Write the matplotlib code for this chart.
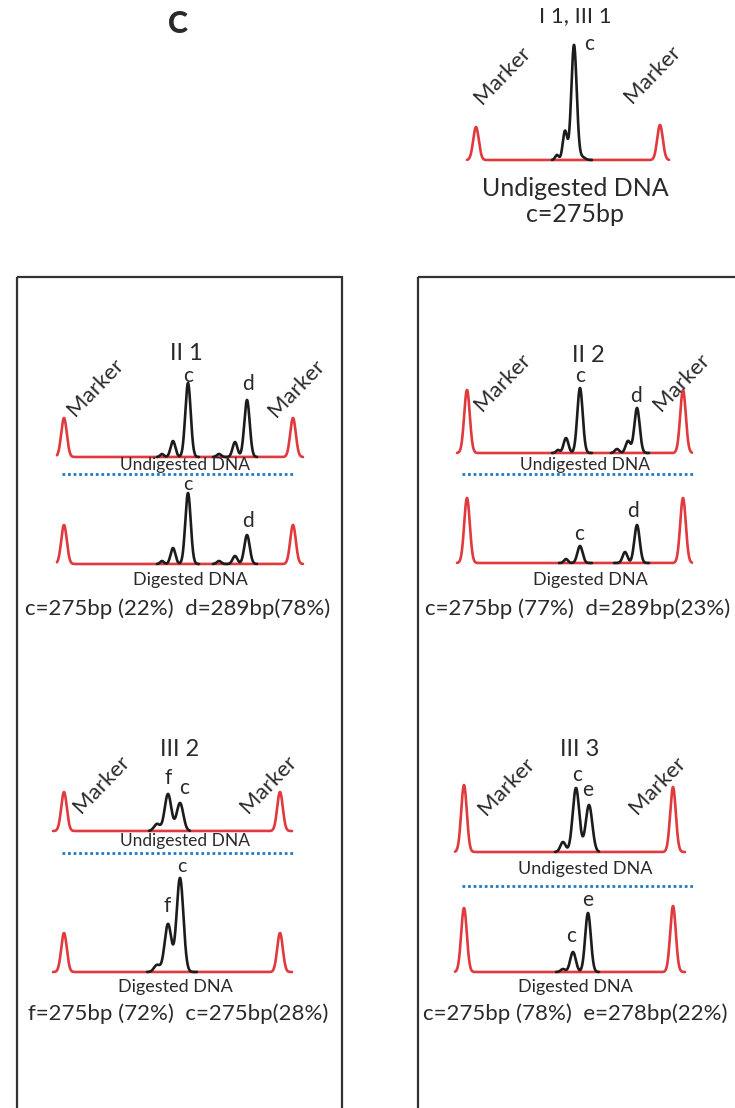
import numpy as np
import matplotlib.pyplot as plt
from matplotlib.patches import Rectangle

plt.rcParams['font.family'] = ['Lato', 'DejaVu Sans']

RED = '#e0393e'
BLACK = '#1c1c1c'
BLUE = '#1f7bc4'
TXT = '#2a2a2a'

# marker peaks: (position, height)
TOP_MARKERS = [(476, 33), (660, 35)]
II1_MARKERS_U = [(64, 39), (293, 39)]
II1_MARKERS_D = [(64, 39), (293, 39)]
II2_MARKERS_U = [(467, 63), (683, 63)]
II2_MARKERS_D = [(467, 65), (683, 65)]
III2_MARKERS_U = [(64, 39), (280, 39)]
III2_MARKERS_D = [(64, 39), (280, 39)]
III3_MARKERS_U = [(464, 67), (673, 65)]
III3_MARKERS_D = [(464, 64), (673, 66)]

# sample peaks: segments of (start, end, [(position, height, width), ...])
TOP_PEAKS = [(552, 592, [(557, 5, 1.8), (565, 29, 2.2), (574, 115, 2.7), (582, 3, 3)])]
II1_PEAKS_U = [(157, 199, [(162, 3, 1.8), (173, 16, 2.4), (188, 74, 2.7)]),
               (213, 257, [(219, 3, 2.2), (235, 15, 2.4), (247, 57, 2.7)])]
II1_PEAKS_D = [(157, 199, [(162, 3, 1.8), (173, 16, 2.4), (188, 71, 2.7)]),
               (213, 257, [(219, 3, 2.2), (235, 8, 2.4), (247, 29, 2.7)])]
II2_PEAKS_U = [(552, 592, [(558, 3, 1.8), (566, 15, 2.4), (580, 65, 2.7)]),
               (611, 649, [(617, 4, 2.2), (628, 12, 2.4), (637, 45, 2.7)])]
II2_PEAKS_D = [(559, 592, [(566, 4, 2.0), (580, 17, 2.6)]),
               (614, 649, [(625, 11, 2.4), (637, 38, 2.7)])]
III2_PEAKS_U = [(149, 190, [(157, 7, 3.0), (168, 37, 3.3), (180, 28, 3.3)])]
III2_PEAKS_D = [(147, 197, [(157, 7, 3.0), (168, 48, 3.4), (180, 94, 3.4)])]
III3_PEAKS_U = [(555, 599, [(563, 10, 2.6), (576, 64, 3.3), (589, 47, 3.3)])]
III3_PEAKS_D = [(556, 599, [(563, 3, 2.2), (573, 20, 2.8), (588, 59, 2.8)])]


def gauss_sum(x, peaks):
    y = np.zeros_like(x)
    for c, h, s in peaks:
        y += h * np.exp(-0.5 * ((x - c) / s) ** 2)
    return y


def lane(ax, x0, x1, base, markers, segments):
    x = np.linspace(x0, x1, 800)
    y = gauss_sum(x, [(c, h, 2.8) for c, h in markers])
    ax.plot(x, base - y, color=RED, lw=1.9, solid_capstyle='round')
    for xs, xe, peaks in segments:
        xx = np.linspace(xs, xe, 400)
        ax.plot(xx, base - gauss_sum(xx, peaks), color=BLACK, lw=1.9,
                solid_capstyle='round')


def marker_labels(ax, left, right, size=16):
    for (x, y) in (left, right):
        ax.text(x, y, 'Marker', rotation=46, ha='center', va='center',
                rotation_mode='anchor', fontsize=size, color=TXT)


def t(ax, x, y, s, size=11, **kw):
    ax.text(x, y, s, ha='center', va='center', fontsize=size, color=TXT, **kw)


fig = plt.figure(figsize=(7.35, 11.08), dpi=100)
ax = fig.add_axes([0, 0, 1, 1])
ax.set_xlim(0, 735)
ax.set_ylim(1108, 0)
ax.axis('off')

# panel letter
t(ax, 178, 24, 'C', size=22, fontweight='black')

# top panel
t(ax, 575, 16, 'I 1, III 1', size=16)
lane(ax, 467, 669, 160, TOP_MARKERS, TOP_PEAKS)
t(ax, 589, 44, 'c', size=15)
marker_labels(ax, (502, 75), (652, 74))
t(ax, 575, 188, 'Undigested DNA', size=18)
t(ax, 575, 214, 'c=275bp', size=18)

# boxes
for bx0, bx1 in ((17, 342), (418, 760)):
    ax.add_patch(Rectangle((bx0, 277), bx1 - bx0, 900, fill=False,
                           ec='#333333', lw=1.6))

# II 1
t(ax, 186, 354, 'II 1', size=17)
marker_labels(ax, (95, 387), (296, 388))
lane(ax, 57, 303, 457, II1_MARKERS_U, II1_PEAKS_U)
t(ax, 188, 376, 'c', size=15)
t(ax, 248, 384, 'd', size=15)
t(ax, 185, 465, 'Undigested DNA', size=12.5)
ax.plot([62, 293], [474, 474], color=BLUE, lw=2.0, ls=(0, (1, 1)))
lane(ax, 57, 303, 564, II1_MARKERS_D, II1_PEAKS_D)
t(ax, 188, 484, 'c', size=14)
t(ax, 248, 521, 'd', size=15)
t(ax, 190, 580, 'Digested DNA', size=13)
t(ax, 178, 609, 'c=275bp (22%)  d=289bp(78%)', size=16)

# II 2
t(ax, 588, 356, 'II 2', size=17)
marker_labels(ax, (502, 382), (681, 382))
lane(ax, 457, 692, 453, II2_MARKERS_U, II2_PEAKS_U)
t(ax, 580, 376, 'c', size=15)
t(ax, 636, 396, 'd', size=15)
t(ax, 585, 465, 'Undigested DNA', size=12.5)
ax.plot([462, 693], [474, 474], color=BLUE, lw=2.0, ls=(0, (1, 1)))
lane(ax, 457, 692, 563, II2_MARKERS_D, II2_PEAKS_D)
t(ax, 579, 534, 'c', size=15)
t(ax, 633, 511, 'd', size=15)
t(ax, 590, 580, 'Digested DNA', size=13)
t(ax, 578, 609, 'c=275bp (77%)  d=289bp(23%)', size=16)

# III 2
t(ax, 180, 749, 'III 2', size=17)
marker_labels(ax, (101, 784), (268, 784))
lane(ax, 53, 292, 831, III2_MARKERS_U, III2_PEAKS_U)
t(ax, 168, 778, 'f', size=15)
t(ax, 184, 788, 'c', size=15)
t(ax, 185, 841, 'Undigested DNA', size=12.5)
ax.plot([62, 293], [853, 853], color=BLUE, lw=2.0, ls=(0, (1, 1)))
lane(ax, 53, 292, 972, III2_MARKERS_D, III2_PEAKS_D)
t(ax, 167, 906, 'f', size=15)
t(ax, 182, 866, 'c', size=14)
t(ax, 175, 987, 'Digested DNA', size=13)
t(ax, 178, 1014, 'f=275bp (72%)  c=275bp(28%)', size=16)

# III 3
t(ax, 580, 749, 'III 3', size=17)
marker_labels(ax, (506, 786), (657, 785))
lane(ax, 455, 685, 852, III3_MARKERS_U, III3_PEAKS_U)
t(ax, 577, 775, 'c', size=15)
t(ax, 588, 790, 'e', size=15)
t(ax, 585, 869, 'Undigested DNA', size=13)
ax.plot([462, 693], [886, 886], color=BLUE, lw=2.0, ls=(0, (1, 1)))
lane(ax, 455, 685, 972, III3_MARKERS_D, III3_PEAKS_D)
t(ax, 571, 936, 'c', size=15)
t(ax, 588, 900, 'e', size=15)
t(ax, 575, 987, 'Digested DNA', size=13)
t(ax, 575, 1014, 'c=275bp (78%)  e=278bp(22%)', size=16)

fig.savefig('out.png', dpi=100)
